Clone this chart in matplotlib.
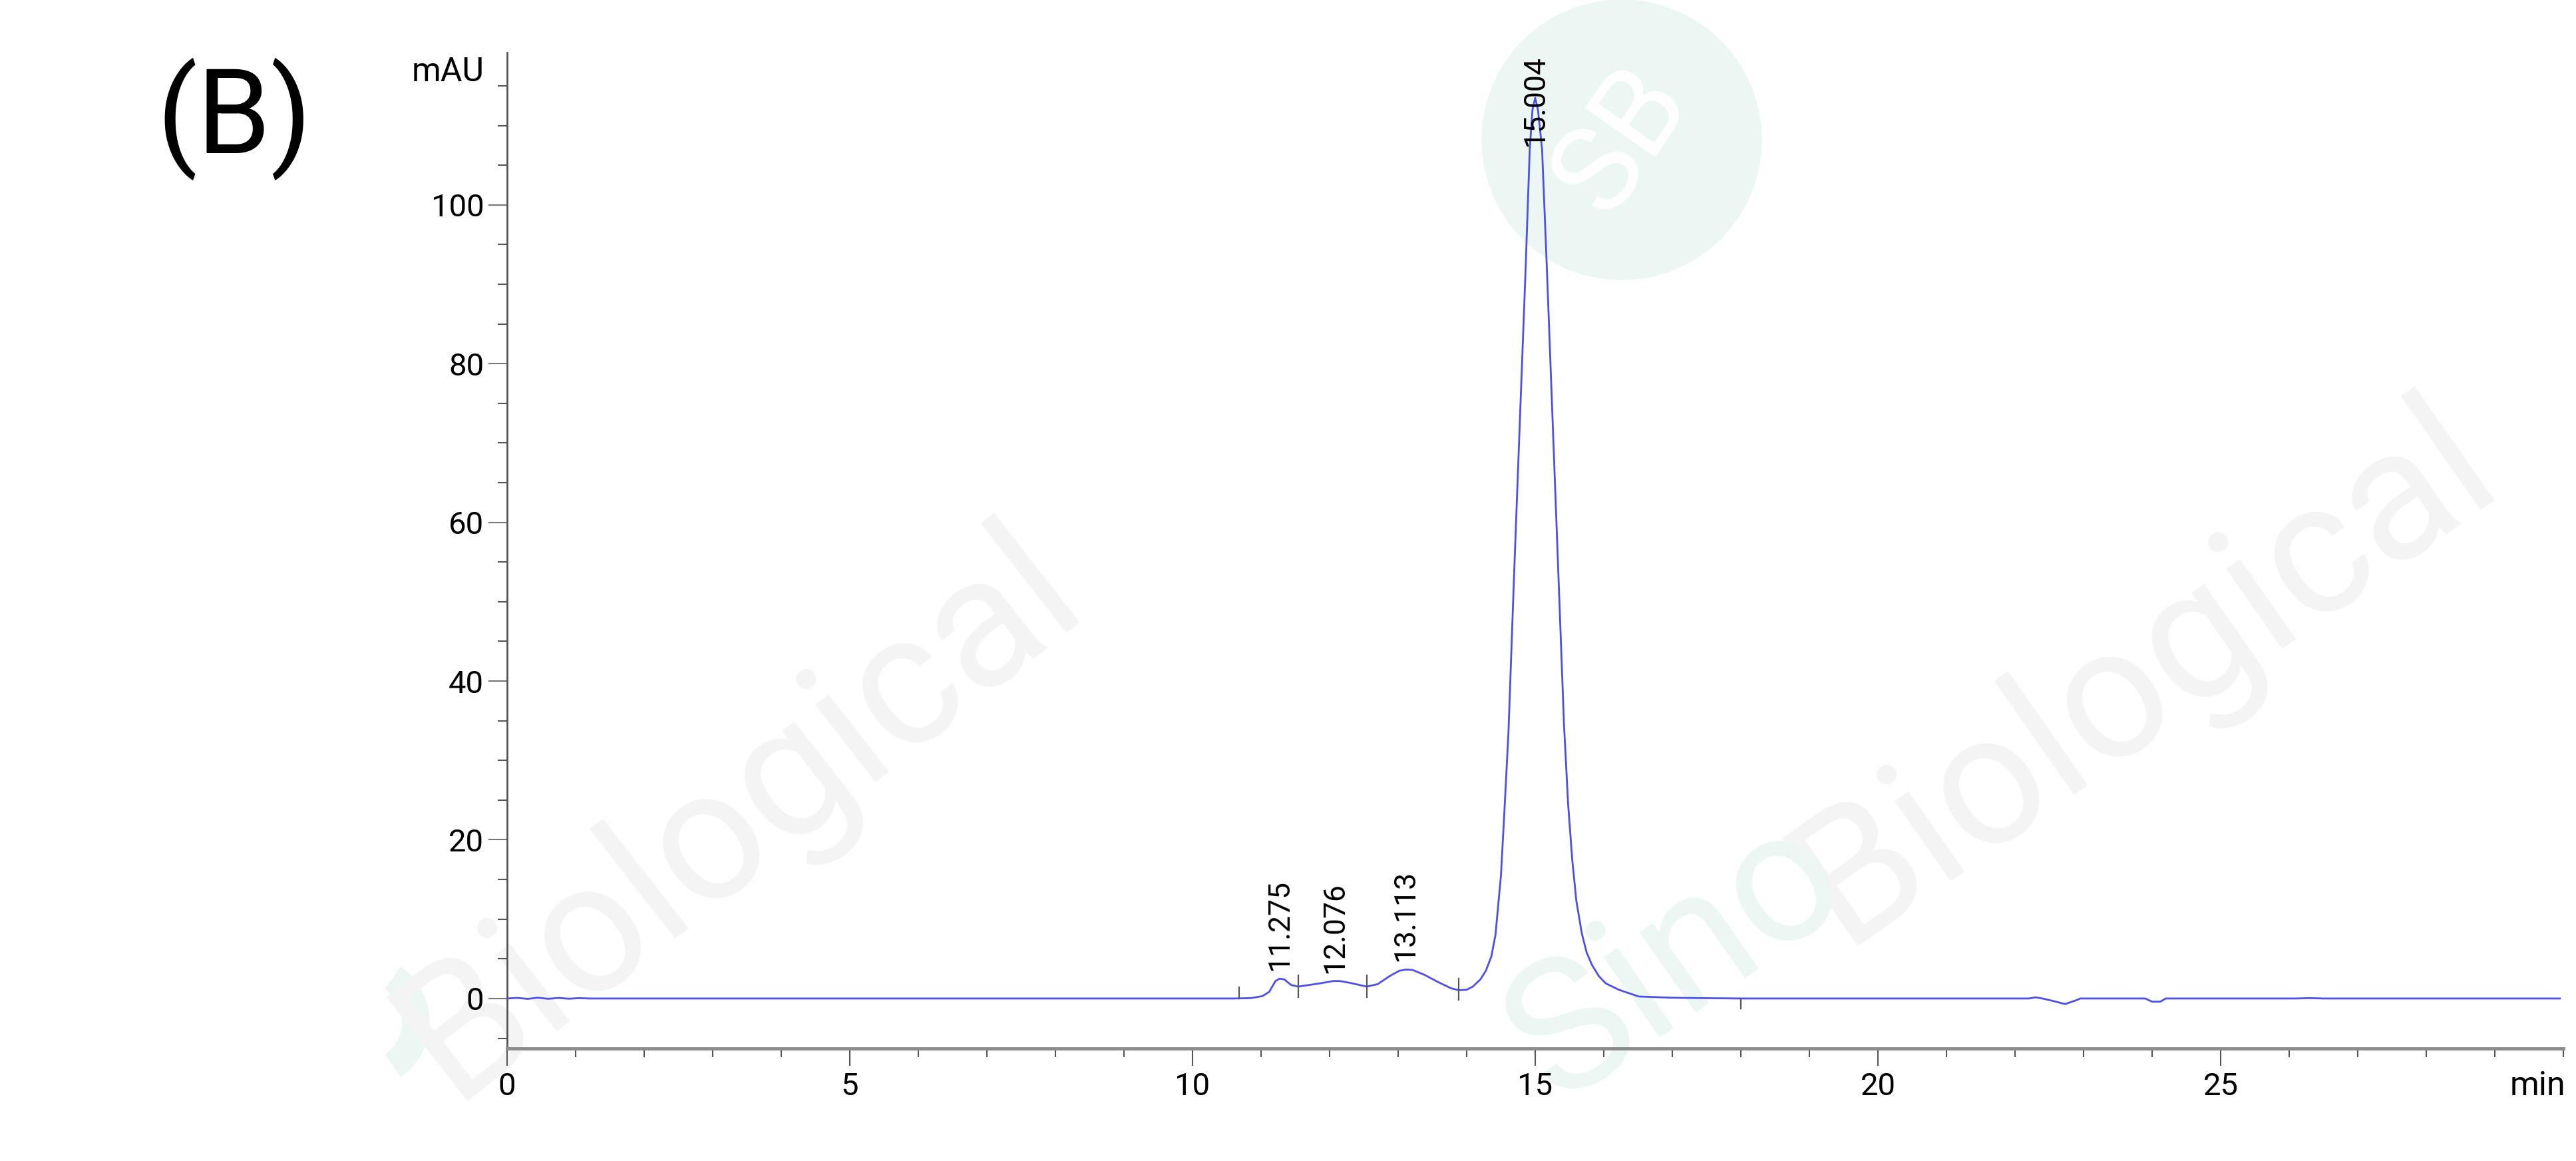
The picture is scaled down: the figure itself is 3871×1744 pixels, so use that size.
import numpy as np
import matplotlib.pyplot as plt
from matplotlib.patches import Ellipse, Wedge
from matplotlib.ticker import MultipleLocator

plt.rcParams['font.family'] = ['Roboto', 'DejaVu Sans']

# chromatogram trace (min, mAU)
time = [0.0, 0.15, 0.3, 0.45, 0.6, 0.75, 0.9, 1.05, 1.2, 10.6,
        10.85, 11.02, 11.12, 11.21, 11.27, 11.34, 11.44, 11.54, 11.7, 11.89,
        12.05, 12.15, 12.31, 12.54, 12.7, 12.89, 13.02, 13.12, 13.21, 13.38,
        13.6, 13.77, 13.88, 14.0, 14.09, 14.2, 14.28, 14.36, 14.42, 14.5,
        14.55, 14.61, 14.69, 14.79, 14.86, 14.92, 14.96, 15.0, 15.04, 15.1,
        15.17, 15.24, 15.34, 15.42, 15.48, 15.54, 15.6, 15.68, 15.75, 15.83,
        15.93, 16.03, 16.22, 16.51, 17.0, 17.4, 18.0, 20.2, 22.2, 22.3,
        22.4, 22.55, 22.73, 22.9, 22.95, 23.9, 24.0, 24.12, 24.2, 26.1,
        26.3, 26.5, 29.95]
mau = [0.0, 0.08, -0.05, 0.1, -0.04, 0.07, -0.03, 0.05, 0.0, 0.0,
       0.05, 0.3, 0.84, 2.2, 2.5, 2.4, 1.7, 1.5, 1.7, 1.95,
       2.2, 2.2, 1.95, 1.5, 1.8, 2.9, 3.5, 3.65, 3.6, 3.0,
       2.0, 1.3, 1.05, 1.1, 1.5, 2.4, 3.5, 5.3, 8.0, 15.5,
       23.5, 33.6, 53.0, 76.0, 92.0, 107.0, 112.0, 113.5, 112.0, 107.0,
       92.0, 76.0, 53.0, 34.5, 24.5, 17.5, 12.3, 8.2, 5.8, 4.2,
       2.8, 1.9, 1.1, 0.25, 0.1, 0.05, 0.0, 0.0, 0.0, 0.15,
       0.0, -0.3, -0.7, -0.2, 0.0, 0.0, -0.4, -0.4, 0.0, 0.0,
       0.05, 0.0, 0.0]

peak_labels = ['11.275', '12.076', '13.113', '15.004']
peak_times = [11.275, 12.076, 13.113, 15.004]
peak_heights = [2.5, 2.2, 3.65, 113.5]

# integration boundary marks: time, low, high (mAU)
mark_times = [10.68, 11.54, 12.54, 13.88, 18.0]
mark_low = [0.0, 0.2, 0.2, -0.2, -1.25]
mark_high = [1.4, 2.9, 2.9, 2.5, 0.0]

W, H = 3871, 1744
fig = plt.figure(figsize=(W / 100, H / 100), dpi=100)

# faint watermarks behind everything
teal = '#ecf7f3'
grey = '#f4f4f4'
fig.add_artist(Ellipse((2437 / W, 1 - 210 / H), 420 / W, 420 / H,
                       color=teal, zorder=-2))
fig.text(2437 / W, 1 - 210 / H, 'SB', color='white', fontsize=130,
         rotation=55, ha='center', va='center', zorder=-1)
fig.text(1111 / W, 1 - 1222 / H, 'Biological', color=grey, fontsize=200,
         rotation=38, ha='center', va='center', rotation_mode='anchor', zorder=-2)
fig.text(3222 / W, 1 - 1012 / H, 'Biological', color=grey, fontsize=200,
         rotation=35, ha='center', va='center', rotation_mode='anchor', zorder=-2)
fig.text(2520 / W, 1 - 1440 / H, 'Sino', color=teal, fontsize=200,
         rotation=35, ha='center', va='center', rotation_mode='anchor', zorder=-2)
# edge of the cut-off "o" at lower left
ring = Wedge((545, H - 1535), 100, -55, 55, width=40, color=teal, zorder=-2,
             transform=None)
fig.add_artist(ring)

ax = fig.add_axes([762 / W, 1 - 1575 / H, 3090 / W, (1575 - 79) / H])
ax.set_zorder(2)
ax.patch.set_alpha(0)
ax.set_xlim(0, 30)
ax.set_ylim(-6.3, 119.2)

ax.plot(time, mau, color='#4f4fe6', lw=2.0, zorder=3)

for t, lo, hi in zip(mark_times, mark_low, mark_high):
    ax.plot([t, t], [lo, hi], color='#555555', lw=1.6, zorder=4)

top = ax.get_ylim()[1]
for lab, t, h in zip(peak_labels, peak_times, peak_heights):
    if h + 12 > top:
        ax.text(t, top - 0.3, lab, rotation=90, ha='center', va='top',
                fontsize=32, zorder=5)
    else:
        ax.annotate(lab, xy=(t, h), xytext=(0, 12), textcoords='offset pixels',
                    rotation=90, ha='center', va='bottom', fontsize=32, zorder=5)

for s in ['top', 'right']:
    ax.spines[s].set_visible(False)
ax.spines['left'].set_color('#555555')
ax.spines['left'].set_linewidth(2.0)
ax.spines['bottom'].set_color('#8c8c8c')
ax.spines['bottom'].set_linewidth(3.5)

ax.set_xticks([0, 5, 10, 15, 20, 25])
ax.xaxis.set_minor_locator(MultipleLocator(1))
ax.set_yticks([0, 20, 40, 60, 80, 100])
ax.yaxis.set_minor_locator(MultipleLocator(5))
ax.tick_params(axis='x', which='major', length=19, width=1.5, color='#555555',
               labelsize=34, pad=6)
ax.tick_params(axis='x', which='minor', length=9, width=1.5, color='#555555')
ax.tick_params(axis='y', which='major', length=20, width=1.5, color='#777777',
               labelsize=34, pad=5)
ax.tick_params(axis='y', which='minor', length=10, width=1.5, color='#555555')

fig.text(728 / W, 1 - 108 / H, 'mAU', ha='right', va='center', fontsize=36)
fig.text(3855 / W, 1 - 1645 / H, 'min', ha='right', va='baseline', fontsize=36)
fig.text(352 / W, 1 - 179 / H, '(B)', ha='center', va='center', fontsize=128)

fig.savefig('out.png', dpi=100)
